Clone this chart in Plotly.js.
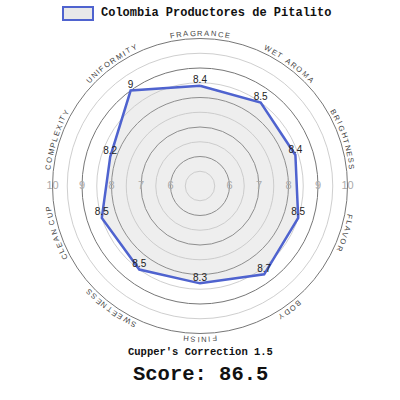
<!DOCTYPE html>
<html>
<head>
<meta charset="utf-8">
<script src="https://cdn.plot.ly/plotly-3.0.1.min.js"></script>
<style>
  body { margin: 0; background: #fff; }
  #plot { width: 400px; height: 400px; }
</style>
</head>
<body>
<div id="plot"></div>
<script>
// cupping attributes, clockwise from the top
const categories = ['FRAGRANCE', 'WET AROMA', 'BRIGHTNESS', 'FLAVOR', 'BODY',
                    'FINISH', 'SWEETNESS', 'CLEAN CUP', 'COMPLEXITY', 'UNIFORMITY'];
const scores = [8.4, 8.5, 8.4, 8.5, 8.7, 8.3, 8.5, 8.5, 8.2, 9];
const seriesName = 'Colombia Productores de Pitalito';
const radialTicks = [6, 7, 8, 9, 10];
const halfSteps = [5.5, 6.5, 7.5, 8.5, 9.5];
const correction = 1.5;
const totalScore = 86.5;

const W = 400, H = 400;
const cx = 200, cy = 186, rad = 147.5;   // polar centre and outer radius in px
const labelR = 153;                       // radius of the curved category labels
const blue = '#4f63cf';
const labelSize = 7.5;
const tracking = 1.6;

// rough Arial advance widths (em) for the capitals we need
const capWidth = {
    A: .667, B: .667, C: .722, D: .722, E: .667, F: .611, G: .778, H: .722, I: .278,
    K: .667, L: .556, M: .833, N: .722, O: .778, P: .667, R: .722, S: .667, T: .611,
    U: .722, V: .667, W: .944, X: .667, Y: .667, ' ': .278
};

// angle of each category (degrees, clockwise from the top)
let theta = categories.map(function (c, i) { return i * 360 / categories.length; });

// close the polygon
let rLoop = scores.concat([scores[0]]);
let tLoop = theta.concat([theta[0]]);
let txtLoop = scores.map(function (v) { return String(v); }).concat(['']);

let traces = [];

// bottom subplot only carries the light half-step circles
traces.push({
    type: 'scatterpolar',
    subplot: 'polar',
    r: [5],
    theta: [0],
    mode: 'markers',
    marker: { size: 0.1, color: 'rgba(0,0,0,0)' },
    hoverinfo: 'skip',
});

// the scores
traces.push({
    type: 'scatterpolar',
    subplot: 'polar2',
    r: rLoop,
    theta: tLoop,
    mode: 'lines+text',
    fill: 'toself',
    fillcolor: 'rgba(200,200,200,0.3)',
    line: { color: blue, width: 2.5 },
    text: txtLoop,
    textposition: 'top center',
    textfont: { family: 'Liberation Sans, Arial', size: 10, color: '#222' },
    name: seriesName,
    cliponaxis: false,
});

// radial tick labels, both sides of the centre
let tickR = radialTicks.concat(radialTicks);
let tickT = radialTicks.map(function () { return 90; }).concat(radialTicks.map(function () { return 270; }));
traces.push({
    type: 'scatterpolar',
    subplot: 'polar2',
    r: tickR,
    theta: tickT,
    mode: 'text',
    text: tickR.map(String),
    textposition: 'middle center',
    textfont: { family: 'Liberation Sans, Arial', size: 11, color: '#aaa' },
    hoverinfo: 'skip',
    cliponaxis: false,
});

const domain = {
    x: [(cx - rad) / W, (cx + rad) / W],
    y: [1 - (cy + rad) / H, 1 - (cy - rad) / H],
};

function polarLayout(gridVals, gridColor, showLine) {
    return {
        domain: domain,
        bgcolor: 'rgba(0,0,0,0)',
        radialaxis: {
            range: [5, 10],
            tickvals: gridVals,
            showticklabels: false,
            ticks: '',
            showline: false,
            gridcolor: gridColor,
            gridwidth: 1,
        },
        angularaxis: {
            type: 'linear',
            rotation: 90,
            direction: 'clockwise',
            showgrid: false,
            showticklabels: false,
            ticks: '',
            showline: showLine,
            linecolor: '#777',
            linewidth: 1,
        },
    };
}

// curved category labels, one letter at a time
let annotations = [];
for (let i = 0; i < categories.length; i++) {
    let word = categories[i];
    let widths = word.split('').map(function (ch) { return (capWidth[ch] || .667) * labelSize; });
    let total = widths.reduce(function (a, b) { return a + b; }, 0) + (word.length - 1) * tracking;
    let run = 0;
    for (let k = 0; k < word.length; k++) {
        let mid = run + widths[k] / 2 - total / 2;
        run += widths[k] + tracking;
        if (word[k] === ' ') { continue; }
        let phi = theta[i] * Math.PI / 180 + mid / labelR;
        let px = cx + labelR * Math.sin(phi);
        let py = cy - labelR * Math.cos(phi);
        annotations.push({
            x: px / W, y: 1 - py / H,
            xref: 'paper', yref: 'paper',
            text: word[k],
            showarrow: false,
            xanchor: 'center', yanchor: 'middle',
            textangle: phi * 180 / Math.PI,
            font: { family: 'Liberation Sans, Arial', size: labelSize, color: '#444' },
        });
    }
}

// legend text
annotations.push({
    x: 99 / W, y: 1 - 13.5 / H,
    xref: 'paper', yref: 'paper',
    xanchor: 'left', yanchor: 'middle',
    text: '<b>' + seriesName + '</b>',
    showarrow: false,
    font: { family: 'Liberation Mono, Courier New, monospace', size: 12, color: '#111' },
});

annotations.push({
    x: 0.5, y: 1 - 352 / H,
    xref: 'paper', yref: 'paper',
    xanchor: 'center', yanchor: 'middle',
    text: "<b>Cupper's Correction " + correction + '</b>',
    showarrow: false,
    font: { family: 'Liberation Mono, Courier New, monospace', size: 10.5, color: '#111' },
});

annotations.push({
    x: 0.5, y: 1 - 374 / H,
    xref: 'paper', yref: 'paper',
    xanchor: 'center', yanchor: 'middle',
    text: '<b>Score: ' + totalScore + '</b>',
    showarrow: false,
    font: { family: 'Liberation Mono, Courier New, monospace', size: 20.5, color: '#111' },
});

const layout = {
    width: W,
    height: H,
    margin: { l: 0, r: 0, t: 0, b: 0 },
    paper_bgcolor: '#fff',
    showlegend: false,
    polar: polarLayout(halfSteps, '#cfcfcf', false),
    polar2: polarLayout(radialTicks.slice(0, 4), '#777', true),
    annotations: annotations,
    shapes: [{
        type: 'rect',
        xref: 'paper', yref: 'paper',
        x0: 63 / W, x1: 93 / W,
        y0: 1 - 20 / H, y1: 1 - 7 / H,
        fillcolor: '#e9e9e9',
        line: { color: blue, width: 2 },
    }],
};

Plotly.newPlot('plot', traces, layout, { displayModeBar: false, staticPlot: true });
</script>
</body>
</html>
